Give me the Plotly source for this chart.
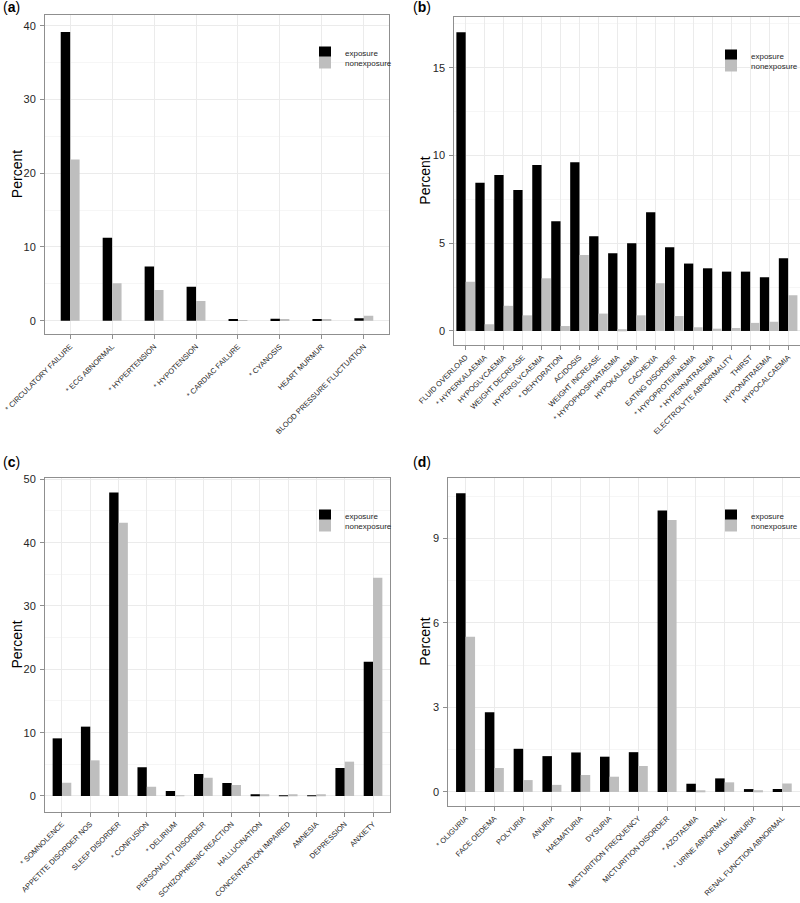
import plotly.graph_objects as go

# ---------------- data ----------------
cats_a = ["* CIRCULATORY FAILURE", "* ECG ABNORMAL", "* HYPERTENSION", "* HYPOTENSION",
          "* CARDIAC FAILURE", "* CYANOSIS", "HEART MURMUR", "BLOOD PRESSURE FLUCTUATION"]
exp_a = [39.15, 11.25, 7.35, 4.6, 0.23, 0.27, 0.14, 0.32]
non_a = [21.85, 5.07, 4.16, 2.67, 0.05, 0.18, 0.18, 0.68]

cats_b = ["FLUID OVERLOAD", "* HYPERKALAEMIA", "HYPOGLYCAEMIA", "WEIGHT DECREASE",
          "HYPERGLYCAEMIA", "* DEHYDRATION", "ACIDOSIS", "WEIGHT INCREASE",
          "* HYPOPHOSPHATAEMIA", "HYPOKALAEMIA", "CACHEXIA", "EATING DISORDER",
          "* HYPOPROTEINAEMIA", "* HYPERNATRAEMIA", "ELECTROLYTE ABNORMALITY", "THIRST",
          "HYPONATRAEMIA", "HYPOCALCAEMIA"]
exp_b = [17.02, 8.45, 8.89, 8.03, 9.46, 6.25, 9.61, 5.4, 4.43, 5.0, 6.76, 4.77,
         3.84, 3.57, 3.38, 3.38, 3.06, 4.14]
non_b = [2.81, 0.38, 1.43, 0.89, 3.0, 0.28, 4.33, 0.99, 0.1, 0.89, 2.72, 0.85,
         0.21, 0.13, 0.17, 0.46, 0.53, 2.03]

cats_c = ["* SOMNOLENCE", "APPETITE DISORDER NOS", "SLEEP DISORDER", "* CONFUSION",
          "* DELIRIUM", "PERSONALITY DISORDER", "SCHIZOPHRENIC REACTION", "HALLUCINATION",
          "CONCENTRATION IMPAIRED", "AMNESIA", "DEPRESSION", "ANXIETY"]
exp_c = [9.1, 10.95, 47.9, 4.52, 0.79, 3.47, 2.05, 0.16, 0.03, 0.03, 4.42, 21.2]
non_c = [2.1, 5.63, 43.16, 1.47, 0.05, 2.9, 1.74, 0.2, 0.12, 0.12, 5.42, 34.47]

cats_d = ["* OLIGURIA", "FACE OEDEMA", "POLYURIA", "ANURIA", "HAEMATURIA", "DYSURIA",
          "MICTURITION FREQUENCY", "MICTURITION DISORDER", "* AZOTAEMIA",
          "* URINE ABNORMAL", "ALBUMINURIA", "RENAL FUNCTION ABNORMAL"]
exp_d = [10.6, 2.83, 1.53, 1.27, 1.4, 1.25, 1.41, 9.99, 0.29, 0.48, 0.1, 0.1]
non_d = [5.51, 0.85, 0.42, 0.25, 0.6, 0.54, 0.92, 9.65, 0.05, 0.34, 0.06, 0.3]

series_names = ["exposure", "nonexposure"]
panel_labels = ["a", "b", "c", "d"]
y_title = "Percent"

# ---------------- style ----------------
W, H = 800, 903
BLACK = "#000000"
GREY = "#bebebe"
MAJ = "#ebebeb"
MIN = "#f6f6f6"
BORDER = "#8f8f8f"
TXT = "#262626"
FONT = "Liberation Sans, Arial, sans-serif"


def px_dom_x(x0, x1):
    return [x0 / W, x1 / W]


def px_dom_y(y_top, y_bot):
    return [1 - y_bot / H, 1 - y_top / H]


panels = [
    # legend: (symbol centre x, first symbol centre y) in px; title x centre; label pos
    dict(cats=cats_a, e=exp_a, n=non_a, xd=(45, 389), yd=(15, 334.3), yr=[-1.84, 41.45],
         dt=10, w=0.225, leg=(325, 48), tx=16.5, lab=(1, -3)),
    dict(cats=cats_b, e=exp_b, n=non_b, xd=(454.3, 799.5), yd=(17.3, 345), yr=[-0.80, 17.87],
         dt=5, w=0.49, leg=(731, 51), tx=425.5, lab=(411, -3)),
    dict(cats=cats_c, e=exp_c, n=non_c, xd=(45, 390), yd=(478.3, 811.7), yr=[-2.48, 50.16],
         dt=10, w=0.33, leg=(325, 511), tx=16.5, lab=(1, 452)),
    dict(cats=cats_d, e=exp_d, n=non_d, xd=(448.3, 799.5), yd=(478.3, 806), yr=[-0.50, 11.13],
         dt=3, w=0.33, leg=(731, 511), tx=425.5, lab=(411, 452)),
]

fig = go.Figure()
layout = dict(
    width=W, height=H, margin=dict(l=0, r=0, t=0, b=0, autoexpand=False),
    paper_bgcolor="white", plot_bgcolor="white",
    barmode="overlay", font=dict(family=FONT, color=TXT),
    annotations=[],
)

leg_counter = 0
for i, p in enumerate(panels):
    sfx = "" if i == 0 else str(i + 1)
    xa, ya = "x" + sfx, "y" + sfx
    w = p["w"]
    lx, ly = p["leg"]
    for j, (vals, col) in enumerate(((p["e"], BLACK), (p["n"], GREY))):
        leg_counter += 1
        legname = "legend" if leg_counter == 1 else "legend%d" % leg_counter
        fig.add_trace(go.Bar(
            x=p["cats"], y=vals, name=series_names[j], xaxis=xa, yaxis=ya,
            width=w, offset=-w if j == 0 else 0,
            marker=dict(color=col, line=dict(width=0)),
            legend=legname, showlegend=True,
        ))
        layout[legname] = dict(
            x=(lx - 20) / W, y=1 - (ly + 10 * j - 10) / H, xanchor="left", yanchor="top",
            bgcolor="rgba(0,0,0,0)", borderwidth=0, font=dict(size=8, color=TXT),
            itemwidth=30, tracegroupgap=0,
        )
    n = len(p["cats"])
    layout["xaxis" + sfx] = dict(
        domain=px_dom_x(*p["xd"]), anchor=ya, type="category", automargin=False,
        range=[-0.6, n - 0.4], showgrid=True, gridcolor=MAJ, gridwidth=1,
        showline=True, mirror=True, linecolor=BORDER, linewidth=1,
        ticks="outside", ticklen=4, tickcolor=BORDER, tickwidth=1,
        tickangle=-45, tickfont=dict(size=7.5, color=TXT), zeroline=False,
        fixedrange=True,
    )
    layout["yaxis" + sfx] = dict(
        domain=px_dom_y(*p["yd"]), anchor=xa, range=p["yr"], automargin=False,
        tickmode="linear", tick0=0, dtick=p["dt"],
        showgrid=True, gridcolor=MAJ, gridwidth=1,
        minor=dict(tick0=0, dtick=p["dt"] / 2, showgrid=True, gridcolor=MIN, gridwidth=1),
        showline=True, mirror=True, linecolor=BORDER, linewidth=1,
        ticks="outside", ticklen=4, tickcolor=BORDER, tickwidth=1,
        tickfont=dict(size=11, color=TXT), ticklabelstandoff=2, zeroline=False,
        fixedrange=True,
    )
    # y axis title
    yc = (p["yd"][0] + p["yd"][1]) / 2
    layout["annotations"].append(dict(
        text=y_title, xref="paper", yref="paper", x=p["tx"] / W, y=1 - yc / H,
        xanchor="center", yanchor="middle", textangle=-90, showarrow=False,
        font=dict(size=14, color="#000000"),
    ))
    # panel label
    ax_x, ax_y = p["lab"]
    layout["annotations"].append(dict(
        text="(<b>%s</b>)" % panel_labels[i], xref="paper", yref="paper",
        x=ax_x / W, y=1 - ax_y / H, xanchor="left", yanchor="top",
        showarrow=False, font=dict(size=14, color="#000000"),
    ))

fig.update_layout(**layout)
fig.write_html(
    "out.html",
    config={"displayModeBar": False},
    post_script="document.body.style.margin='0';document.body.style.overflow='hidden';",
)
